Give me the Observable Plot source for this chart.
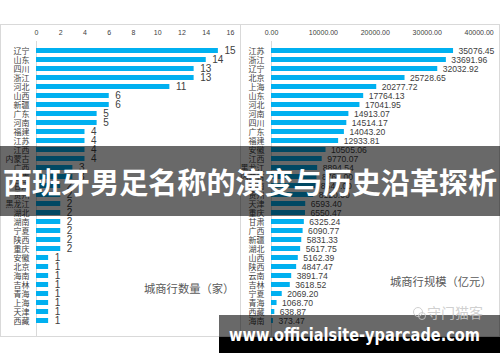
<!DOCTYPE html>
<html>
<head>
<meta charset="utf-8">
<script src="https://cdn.jsdelivr.net/npm/d3@7"></script>
<script src="https://cdn.jsdelivr.net/npm/@observablehq/plot@0.6"></script>
<style>
  html, body { margin: 0; padding: 0; background: #fff; }
  #wrap { position: relative; width: 500px; height: 362px; overflow: hidden; background: #fff;
          font-family: "Liberation Sans", "Noto Sans CJK SC", sans-serif; }
  .panel { position: absolute; box-sizing: border-box; border: 1px solid #d9d9d9; }
  .plotbox { position: absolute; }
  .plotbox svg { overflow: visible; display: block; }
  .atitle { position: absolute; color: #595959; font-family: "Noto Sans CJK SC", sans-serif; font-size: 11.3px; white-space: nowrap; line-height: 1; }
  #overlay { position: absolute; left: 0; top: 0; pointer-events: none; }
</style>
</head>
<body>
<div id="wrap">
  <div class="panel" style="left:0;top:24px;width:241px;height:313px"></div>
  <div class="panel" style="left:240px;top:24px;width:260px;height:313px"></div>
  <div class="plotbox" id="left" style="left:0;top:24px"></div>
  <div class="plotbox" id="right" style="left:240px;top:24px"></div>
  <div class="atitle" style="left:144px;top:283px">城商行数量（家）</div>
  <div class="atitle" style="left:390px;top:276px">城商行规模（亿元）</div>
</div>
<script>
// ---- data ----
const countNames = ["辽宁","山东","四川","浙江","河北","山西","新疆","广东","河南","福建","江苏","江西","内蒙古","广西","云南","甘肃","贵州","黑龙江","湖北","湖南","宁夏","陕西","重庆","安徽","北京","海南","吉林","青海","上海","天津","西藏"];
const countValues = [15,14,13,13,11,6,6,5,5,4,4,4,4,3,3,2,2,2,2,2,2,2,2,1,1,1,1,1,1,1,1];
const countTicks = [0,2,4,6,8,10,12,14,16];

const scaleNames = ["江苏","浙江","辽宁","北京","上海","山东","河北","河南","四川","广东","福建","安徽","江西","黑龙江","内蒙古","湖南","贵州","天津","重庆","甘肃","广西","新疆","湖北","山西","陕西","云南","吉林","宁夏","青海","西藏","海南"];
const scaleValues = [35076.45,33691.96,32032.92,25728.65,20277.72,17764.13,17041.95,14913.07,14514.17,14043.20,12933.81,10505.06,9770.07,8894.54,8760.00,8540.00,8120.00,6593.40,6550.47,6325.24,6090.77,5831.33,5617.75,5162.39,4847.47,3891.74,3618.52,2069.20,1068.70,638.87,373.47];
const scaleTicks = [0,10000,20000,30000,40000];

const titleText = "西班牙男足名称的演变与历史沿革探析";
const siteText = "www.officialsite-yparcade.com";
const markText = "守门猫客";

const countData = countNames.map((name, i) => ({name, value: countValues[i]}));
const scaleData = scaleNames.map((name, i) => ({name, value: scaleValues[i]}));

const BAR = "#00b0f0";
const TXT = "#404040";
const numFont = "'Liberation Sans', 'Noto Sans CJK SC', sans-serif";
const cjkFont = "'Noto Sans CJK SC', sans-serif";

function chart(data, names, ticks, opts) {
  return Plot.plot({
    width: opts.width, height: 312,
    marginLeft: opts.ml, marginRight: opts.mr, marginTop: 13, marginBottom: 0,
    style: {background: "transparent", fontFamily: numFont, color: TXT, overflow: "visible"},
    x: {domain: [ticks[0], ticks[ticks.length - 1]], label: null},
    y: {domain: names, range: [16.33, 305.67], paddingInner: 0.48, paddingOuter: 0.25, label: null},
    marks: [
      Plot.axisX(ticks, {anchor: "top", label: null, tickSize: 0, tickPadding: 2.5, fontSize: 7, fill: TXT, tickFormat: opts.fmt, fontFamily: numFont}),
      Plot.axisY({label: null, tickSize: 0, tickPadding: opts.tp, fontSize: 8, fill: TXT, fontFamily: cjkFont}),
      Plot.ruleX([0], {stroke: "#d9d9d9", insetTop: 4}),
      Plot.barX(data, {x: "value", y: "name", fill: BAR}),
      Plot.text(data, {x: "value", y: "name", text: d => opts.fmt(d.value), textAnchor: "start", dx: opts.dx, fontSize: opts.vfs, fill: TXT, fontFamily: numFont})
    ]
  });
}

document.getElementById("left").appendChild(chart(countData, countNames, countTicks,
  {width: 240, ml: 36, mr: 10, tp: 7, dx: 6, vfs: 10, fmt: d3.format("d")}));
document.getElementById("right").appendChild(chart(scaleData, scaleNames, scaleTicks,
  {width: 260, ml: 31, mr: 21.4, tp: 7, dx: 5, vfs: 8.6, fmt: d3.format(".2f")}));

// ---- overlays ----
const ov = d3.select("#wrap").append("svg").attr("id", "overlay").attr("width", 500).attr("height", 362);
ov.append("rect").attr("x", 0).attr("y", 146).attr("width", 500).attr("height", 70).attr("fill", "rgba(0,0,0,0.59)");
ov.append("text").attr("x", 250).attr("y", 194).attr("text-anchor", "middle")
  .attr("font-family", cjkFont).attr("font-weight", 700).attr("font-size", 29).attr("fill", "#fff")
  .attr("textLength", 494).attr("lengthAdjust", "spacingAndGlyphs").text(titleText);
ov.append("rect").attr("x", 219).attr("y", 315).attr("width", 281).attr("height", 22).attr("fill", "rgba(0,0,0,0.59)");
ov.append("rect").attr("x", 219).attr("y", 337).attr("width", 281).attr("height", 16).attr("fill", "#000");
ov.append("text").attr("x", 427).attr("y", 318).attr("font-family", cjkFont).attr("font-size", 14)
  .attr("fill", "rgba(200,200,200,0.85)").text(markText);
ov.append("circle").attr("cx", 418).attr("cy", 312).attr("r", 4.5).attr("fill", "none").attr("stroke", "rgba(200,200,200,0.85)");
ov.append("circle").attr("cx", 422).attr("cy", 316).attr("r", 3.5).attr("fill", "none").attr("stroke", "rgba(200,200,200,0.85)");
ov.append("text").attr("x", 229).attr("y", 341).attr("font-family", "'DejaVu Sans', sans-serif").attr("font-weight", 700)
  .attr("font-size", 17).attr("fill", "#fff").attr("textLength", 251).attr("lengthAdjust", "spacingAndGlyphs").text(siteText);
</script>
</body>
</html>
